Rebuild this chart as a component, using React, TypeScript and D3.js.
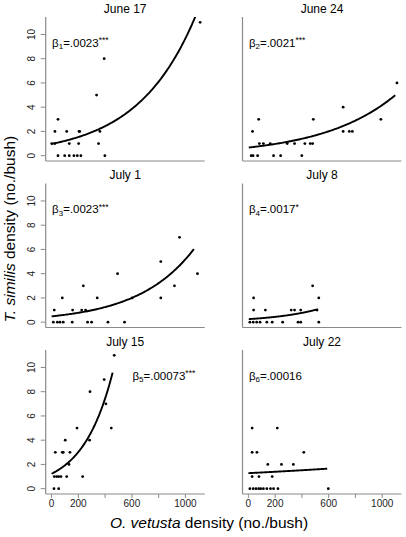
import React from "react";
import * as d3 from "d3";

const W = 406;
const H = 537;

const panelTitles = ["June 17", "June 24", "July 1", "July 8", "July 15", "July 22"];
const betaSubs = ["1", "2", "3", "4", "5", "6"];
const betaValues = ["=.0023", "=.0021", "=.0023", "=.0017", "=.00073", "=.00016"];
const betaStars = ["***", "***", "***", "*", "***", ""];
const betaLabelX = [0, 0, 0, 0, 600, 0];
const betaLabelY = [9, 9, 9, 9, 9, 9];

// points per panel (O. vetusta density, T. similis density)
const june17X = [1110, 393, 336, 48, 25, 113, 205, 210, 361, 1, 25, 132, 202, 351, 48, 98, 132, 167, 192, 219, 398];
const june17Y = [11, 8, 5, 3, 2, 2, 2, 2, 2, 1, 1, 1, 1, 1, 0, 0, 0, 0, 0, 0, 0];
const june24X = [1110, 708, 990, 77, 485, 31, 708, 754, 777, 82, 112, 163, 290, 345, 422, 462, 480, 21, 35, 69, 188, 241, 399];
const june24Y = [6, 4, 3, 3, 3, 2, 2, 2, 2, 1, 1, 1, 1, 1, 1, 1, 1, 0, 0, 0, 0, 0, 0];
const july1X = [956, 816, 1090, 493, 918, 237, 80, 341, 602, 816, 20, 157, 225, 254, 13, 43, 63, 87, 154, 269, 299, 421, 545];
const july1Y = [7, 5, 4, 4, 3, 3, 2, 2, 2, 2, 1, 1, 1, 1, 0, 0, 0, 0, 0, 0, 0, 0, 0];
const july8X = [480, 39, 526, 39, 127, 320, 345, 391, 513, 11, 36, 62, 87, 138, 178, 256, 371, 391, 526];
const july8Y = [3, 2, 2, 1, 1, 1, 1, 1, 1, 0, 0, 0, 0, 0, 0, 0, 0, 0, 0];
const july15X = [468, 393, 406, 287, 446, 190, 284, 102, 28, 80, 87, 137, 130, 20, 38, 53, 70, 113, 232, 18, 53];
const july15Y = [11, 9, 7, 8, 5, 5, 4, 4, 3, 3, 3, 3, 2, 1, 1, 1, 1, 1, 1, 0, 0];
const july22X = [28, 216, 28, 64, 414, 145, 247, 336, 28, 79, 178, 11, 36, 57, 77, 92, 112, 138, 165, 188, 221, 597];
const july22Y = [5, 5, 3, 3, 3, 2, 2, 2, 1, 1, 1, 0, 0, 0, 0, 0, 0, 0, 0, 0, 0, 0];

const panelX = [june17X, june24X, july1X, july8X, july15X, july22X];
const panelY = [june17Y, june24Y, july1Y, july8Y, july15Y, july22Y];

// fitted exponential curves y = a * exp(b * x)
const curveA = [0.97, 0.67, 0.48, 0.25, 1.23, 1.28];
const curveB = [0.0023, 0.00183, 0.00238, 0.0028, 0.0045, 0.00043];
const curveXmin = [0, 3, 0, 3, 0, 0];
const curveXmax = [1110, 1097, 1063, 518, 456, 589];

const yTicks = [0, 2, 4, 6, 8, 10];
const xTicks = [0, 200, 400, 600, 800, 1000];
const xTickLabels = [0, 200, 600, 1000];

const colLeft = [45.7, 242.5];
const rowBottom = [161, 327.5, 494];
const plotW = 159;
const plotH = 144;
const xDomain = [-44, 1144];
const yDomain = [-0.44, 11.44];

const FONT = "'Liberation Sans', Arial, sans-serif";
const AXIS = "#8a8a8a";

function Panel({ i }: { i: number }) {
  const col = i % 2;
  const row = Math.floor(i / 2);
  const left = colLeft[col];
  const bottom = rowBottom[row];
  const top = bottom - plotH;
  const x = d3.scaleLinear().domain(xDomain).range([left, left + plotW]);
  const y = d3.scaleLinear().domain(yDomain).range([bottom, top]);
  const n = 120;
  const xs = d3.range(n + 1).map((k) => curveXmin[i] + ((curveXmax[i] - curveXmin[i]) * k) / n);
  const line = d3
    .line<number>()
    .x((d) => x(d))
    .y((d) => y(curveA[i] * Math.exp(curveB[i] * d)));
  const clipId = `clip${i}`;
  return (
    <g>
      <defs>
        <clipPath id={clipId}>
          <rect x={left} y={top} width={plotW} height={plotH} />
        </clipPath>
      </defs>
      <text x={left + plotW / 2} y={top - 4.5} textAnchor="middle" fontSize={12} fill="#000">
        {panelTitles[i]}
      </text>
      <line x1={left} x2={left} y1={top} y2={bottom} stroke={AXIS} strokeWidth={1.2} />
      <line x1={left} x2={left + plotW} y1={bottom} y2={bottom} stroke={AXIS} strokeWidth={1.2} />
      {col === 0 &&
        yTicks.map((t) => (
          <g key={"yt" + t}>
            <line x1={left - 5} x2={left} y1={y(t)} y2={y(t)} stroke={AXIS} strokeWidth={1} />
            <text
              transform={`translate(${left - 10.5},${y(t)}) rotate(-90)`}
              textAnchor="middle"
              fontSize={10}
              fill="#222"
            >
              {t}
            </text>
          </g>
        ))}
      {row === 2 &&
        xTicks.map((t) => (
          <line key={"xt" + t} x1={x(t)} x2={x(t)} y1={bottom} y2={bottom + 4} stroke={AXIS} strokeWidth={1} />
        ))}
      {row === 2 &&
        xTickLabels.map((t) => (
          <text key={"xl" + t} x={x(t)} y={bottom + 12.5} textAnchor="middle" fontSize={10} fill="#222">
            {t}
          </text>
        ))}
      <g clipPath={`url(#${clipId})`}>
        <path d={line(xs) || ""} fill="none" stroke="#000" strokeWidth={1.9} />
      </g>
      {panelX[i].map((v, k) => (
        <circle key={k} cx={x(v)} cy={y(panelY[i][k])} r={1.4} fill="#000" />
      ))}
      <text x={x(betaLabelX[i]) + 0.5} y={y(betaLabelY[i])} fontSize={11.5} fill="#000">
        <tspan>β</tspan>
        <tspan fontSize={8} dy={2.5}>{betaSubs[i]}</tspan>
        <tspan dy={-2.5}>{betaValues[i]}</tspan>
        {betaStars[i] && (
          <tspan fontSize={8.5} dy={-3.5}>
            {betaStars[i]}
          </tspan>
        )}
      </text>
    </g>
  );
}

export default function App() {
  return (
    <div style={{ position: "absolute", left: 0, top: 0 }}>
      <svg width={W} height={H} style={{ display: "block", fontFamily: FONT }}>
        <rect width={W} height={H} fill="#fff" />
        {panelTitles.map((_, i) => (
          <Panel key={i} i={i} />
        ))}
        <text transform="translate(15,229) rotate(-90)" textAnchor="middle" fontSize={15.5} fill="#000">
          <tspan fontStyle="italic">T. similis</tspan>
          <tspan> density (no./bush)</tspan>
        </text>
        <text x={209} y={528} textAnchor="middle" fontSize={15.5} fill="#000">
          <tspan fontStyle="italic">O. vetusta</tspan>
          <tspan> density (no./bush)</tspan>
        </text>
      </svg>
    </div>
  );
}
